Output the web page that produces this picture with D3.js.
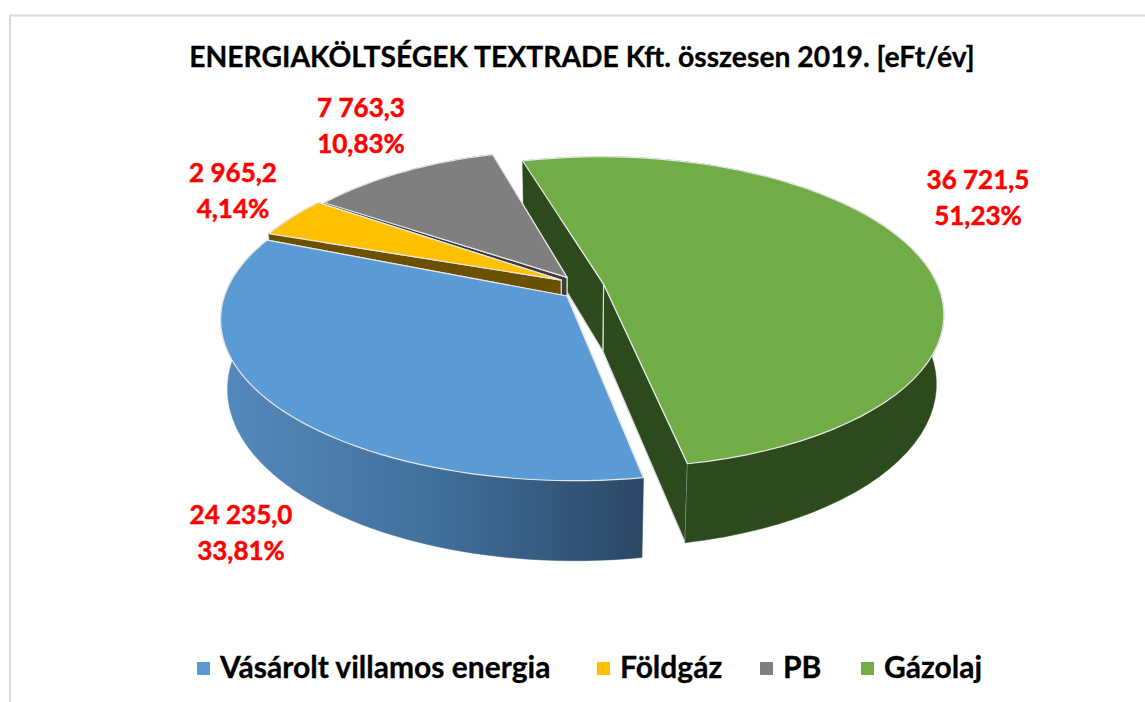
<!DOCTYPE html>
<html>
<head>
<meta charset="utf-8">
<style>
  html, body { margin: 0; padding: 0; background: #fff; }
  svg { display: block; }
  text { font-family: Lato, "Open Sans", sans-serif; font-weight: 700; }
</style>
</head>
<body>
<div id="chart"></div>
<script src="https://cdn.jsdelivr.net/npm/d3@7"></script>
<script>
var categories = ["Vásárolt villamos energia", "Földgáz", "PB", "Gázolaj"];
var values = [24235.0, 2965.2, 7763.3, 36721.5];
var valueLabels = ["24 235,0", "2 965,2", "7 763,3", "36 721,5"];
var percentLabels = ["33,81%", "4,14%", "10,83%", "51,23%"];
var chartTitle = "ENERGIAKÖLTSÉGEK TEXTRADE Kft. összesen 2019. [eFt/év]";

var width = 1145, height = 702;

var topColor = ["#5b9bd5", "#ffc000", "#7f7f7f", "#70ad47"];
var faceColor = ["#2b4a6e", "#6b5000", "#3c3c3c", "#2d4a1c"];
var labelPos = [[241, 515], [233, 173], [361, 108], [978, 180]];
var legendX = [197, 597, 760, 861];

var cx = 567, cy = 296;
var rx = 346, ry = 161, persp = 0.154, depth = 68, shrink = 0.02;
var firstAngle = -14 * Math.PI / 180;

// per slice placement: tip of the wedge, centre of its rim, rim scale and a small turn
var tip = [[0, 0], [-0.017, 0.1], [0, 0.118], [0.107, 0.075]];
var rimCentre = [[0.02, 0], [0.01, 0.035], [0, 0.05], [0.113, 0.041]];
var rimScale = [[1.01, 0.975], [1, 1], [0.95, 1], [0.97, 0.957]];
var rimTurn = [0, 0, -0.02, -0.027];

// the pie is clockwise from the green slice, so order the slices for d3.pie by hand
var pie = d3.pie()
    .sort(null)
    .startAngle(firstAngle)
    .endAngle(firstAngle + 2 * Math.PI);
var order = [3, 0, 1, 2];
var arcs = pie(order.map(function(i) { return values[i]; }));
arcs.forEach(function(d, k) { d.idx = order[k]; });

// world coords on the disc -> screen, z=0 top face, z=1 bottom face
function project(u, v, z) {
    var s = 1 / (1 + persp * v);
    var sz = 1 - shrink * z;
    return [cx + rx * u * s * sz, cy - ry * v * s + depth * z * s];
}

function rimPoints(d, z) {
    var i = d.idx;
    var angles = d3.range(0, 61).map(function(k) {
        return d.startAngle + rimTurn[i] + (d.endAngle - d.startAngle) * k / 60;
    });
    return angles.map(function(a) {
        return project(rimCentre[i][0] + rimScale[i][0] * Math.sin(a),
            rimCentre[i][1] + rimScale[i][1] * Math.cos(a), z);
    });
}

function apex(d, z) {
    return project(tip[d.idx][0], tip[d.idx][1], z);
}

var line = d3.line();

var svg = d3.select("#chart").append("svg")
    .attr("width", width)
    .attr("height", height);

var defs = svg.append("defs");
var blueGrad = defs.append("linearGradient")
    .attr("id", "blueWall")
    .attr("gradientUnits", "userSpaceOnUse")
    .attr("x1", 222).attr("x2", 643).attr("y1", 0).attr("y2", 0);
blueGrad.append("stop").attr("offset", "0%").attr("stop-color", "#5589bc");
blueGrad.append("stop").attr("offset", "50%").attr("stop-color", "#41709c");
blueGrad.append("stop").attr("offset", "100%").attr("stop-color", "#2a4866");

// frame, no right side in the crop
svg.append("path")
    .attr("d", "M10,702V15.5H1145")
    .attr("fill", "none")
    .attr("stroke", "#d9d9d9")
    .attr("stroke-width", 2);

svg.append("text")
    .attr("x", 582)
    .attr("y", 67)
    .attr("text-anchor", "middle")
    .attr("font-size", 28.3)
    .attr("fill", "#000")
    .attr("stroke", "#000")
    .attr("stroke-width", 0.3)
    .text(chartTitle);

// back to front: green, then gray, yellow, blue
var drawOrder = [3, 2, 1, 0];
drawOrder.forEach(function(idx) {
    var d = arcs.filter(function(a) { return a.idx === idx; })[0];
    var g = svg.append("g").attr("class", "slice");
    var top = rimPoints(d, 0), bottom = rimPoints(d, 1);
    var a0 = apex(d, 0), a1 = apex(d, 1);
    var wallFill = idx === 0 ? "url(#blueWall)" : faceColor[idx];

    // the two cut faces, the one facing the viewer last
    [top.length - 1, 0].forEach(function(n) {
        g.append("path")
            .attr("d", line([a0, top[n], bottom[n], a1]) + "Z")
            .attr("fill", faceColor[idx])
            .attr("stroke", "#d9d9d9")
            .attr("stroke-width", 1.2)
            .attr("stroke-linejoin", "round");
    });

    // outer wall
    g.append("path")
        .attr("d", line(top.concat(bottom.slice().reverse())) + "Z")
        .attr("fill", wallFill)
        .attr("stroke", wallFill)
        .attr("stroke-width", 0.5);

    // top face
    g.append("path")
        .attr("d", line([a0].concat(top)) + "Z")
        .attr("fill", topColor[idx])
        .attr("stroke", "#e8e8e8")
        .attr("stroke-width", 1.2)
        .attr("stroke-linejoin", "round");
});

// data labels
var labels = svg.append("g")
    .attr("fill", "#ff0000")
    .attr("stroke", "#ff0000")
    .attr("stroke-width", 0.5)
    .attr("font-size", 26)
    .attr("text-anchor", "middle");
labelPos.forEach(function(p, i) {
    labels.append("text").attr("x", p[0]).attr("y", p[1] + 9).text(valueLabels[i]);
    labels.append("text").attr("x", p[0]).attr("y", p[1] + 45).text(percentLabels[i]);
});

// legend
var legend = svg.selectAll(".legend")
    .data(categories)
    .enter().append("g")
    .attr("class", "legend")
    .attr("transform", function(d, i) { return "translate(" + legendX[i] + ",662)"; });
legend.append("rect")
    .attr("width", 13)
    .attr("height", 13)
    .attr("fill", function(d, i) { return topColor[i]; });
legend.append("text")
    .attr("x", 23)
    .attr("y", 16)
    .attr("font-size", 30)
    .attr("fill", "#000")
    .attr("stroke", "#000")
    .attr("stroke-width", 0.3)
    .text(function(d) { return d; });
</script>
</body>
</html>
